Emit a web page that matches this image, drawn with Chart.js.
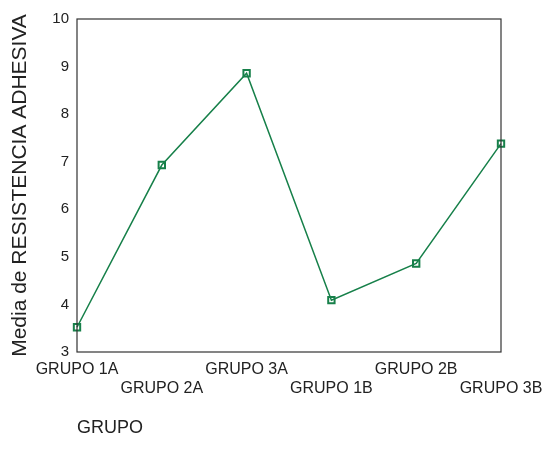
<!DOCTYPE html>
<html>
<head>
<meta charset="utf-8">
<script src="https://cdn.jsdelivr.net/npm/chart.js@4/dist/chart.umd.min.js"></script>
<style>
  html, body { margin: 0; padding: 0; background: #fff; }
  #wrap { width: 542px; height: 454px; }
</style>
</head>
<body>
<div id="wrap"><canvas id="chart" width="542" height="454"></canvas></div>
<script>
// data
const grupos = ['GRUPO 1A', 'GRUPO 2A', 'GRUPO 3A', 'GRUPO 1B', 'GRUPO 2B', 'GRUPO 3B'];
const medias = [3.52, 6.93, 8.86, 4.09, 4.86, 7.38];
const yTicks = [3, 4, 5, 6, 7, 8, 9, 10];

const lineColor = '#17804a';
const textColor = '#222';
const fontFam = 'Arial, "Liberation Sans", sans-serif';

// frame round the plot area
const framePlugin = {
  id: 'frame',
  afterDraw(chart) {
    const { ctx, chartArea: a } = chart;
    ctx.save();
    ctx.strokeStyle = '#333';
    ctx.lineWidth = 1.2;
    ctx.strokeRect(a.left, a.top, a.right - a.left, a.bottom - a.top);
    ctx.restore();
  }
};

const ctx = document.getElementById('chart').getContext('2d');
new Chart(ctx, {
  type: 'line',
  data: {
    labels: grupos,
    datasets: [{
      data: medias,
      borderColor: lineColor,
      borderWidth: 1.5,
      pointStyle: 'rect',
      pointRadius: 4.5,
      pointBorderWidth: 2,
      pointBackgroundColor: 'rgba(255,255,255,0)',
      pointBorderColor: lineColor,
      tension: 0
    }]
  },
  options: {
    responsive: false,
    animation: false,
    layout: { padding: { top: 19, right: 41, left: 0, bottom: 0 } },
    plugins: {
      legend: { display: false },
      tooltip: { enabled: false }
    },
    scales: {
      x: {
        offset: false,
        grid: { display: false, drawTicks: false },
        border: { display: false },
        afterFit(scale) {
          scale.height = 102;
          scale.paddingLeft = 0;
          scale.paddingRight = 0;
        },
        ticks: {
          autoSkip: false,
          maxRotation: 0,
          padding: 8,
          color: textColor,
          font: { family: fontFam, size: 16 },
          callback(v, i) {
            return i % 2 === 0 ? [grupos[i], ''] : ['', grupos[i]];
          }
        },
        title: {
          display: true,
          text: 'GRUPO',
          align: 'start',
          color: textColor,
          font: { family: fontFam, size: 18 },
          padding: { top: 1, bottom: 15 }
        }
      },
      y: {
        min: 3,
        max: 10,
        grid: { display: false, drawTicks: false },
        border: { display: false },
        afterFit(scale) { scale.width = 77; },
        afterBuildTicks(scale) { scale.ticks = yTicks.map(v => ({ value: v })); },
        ticks: {
          padding: 8,
          color: textColor,
          font: { family: fontFam, size: 15 }
        },
        title: {
          display: true,
          text: 'Media de RESISTENCIA ADHESIVA',
          color: textColor,
          font: { family: fontFam, size: 21 },
          padding: { top: 8, bottom: 0 }
        }
      }
    }
  },
  plugins: [framePlugin]
});
</script>
</body>
</html>
